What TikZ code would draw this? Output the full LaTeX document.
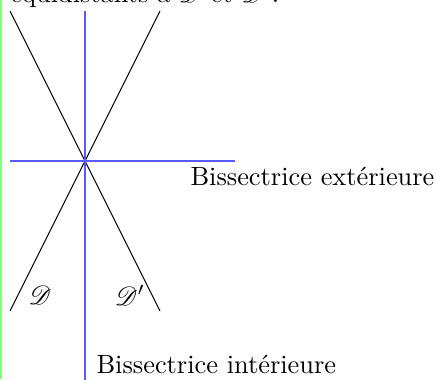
\documentclass[tikz,border=0pt]{standalone}
\usepackage{mathrsfs}
\begin{document}
\begin{tikzpicture}[
  bis/.style={blue!65, line width=0.4pt},
  droite/.style={black, line width=0.4pt},
  lbl/.style={inner sep=0pt}
]
\useasboundingbox (-1.1333,-2.9067) rectangle (4.68,2.1467);
\fill[green!50] (-1.1333,-2.9067) rectangle (-1.1067,2.1467);
\node[lbl, anchor=base west] (titre) at (-1.0,2.107) {équidistants à $\mathscr{D}$ et $\mathscr{D}'$.};
\coordinate (O) at (0,0);
\coordinate (Da) at (-1,-2);
\coordinate (Db) at (1,2);
\coordinate (Ea) at (-1,2);
\coordinate (Eb) at (1,-2);
\coordinate (Ha) at (-1,0);
\coordinate (Hb) at (2,0);
\coordinate (Va) at (0,2);
\coordinate (Vb) at (0,-3);
\draw[droite] (Da) -- (Db);
\draw[droite] (Ea) -- (Eb);
\draw[bis] (Ha) -- (Hb);
\draw[bis] (Va) -- (Vb);
\node[lbl] (LD) at (-0.6,-1.79) {$\mathscr{D}$};
\node[lbl] (LDp) at (0.6,-1.79) {$\mathscr{D}'$};
\node[lbl, anchor=base west] (ext) at (1.4,-0.32) {Bissectrice extérieure};
\node[lbl, anchor=base west] (int) at (0.147,-2.83) {Bissectrice intérieure};
\end{tikzpicture}
\end{document}
